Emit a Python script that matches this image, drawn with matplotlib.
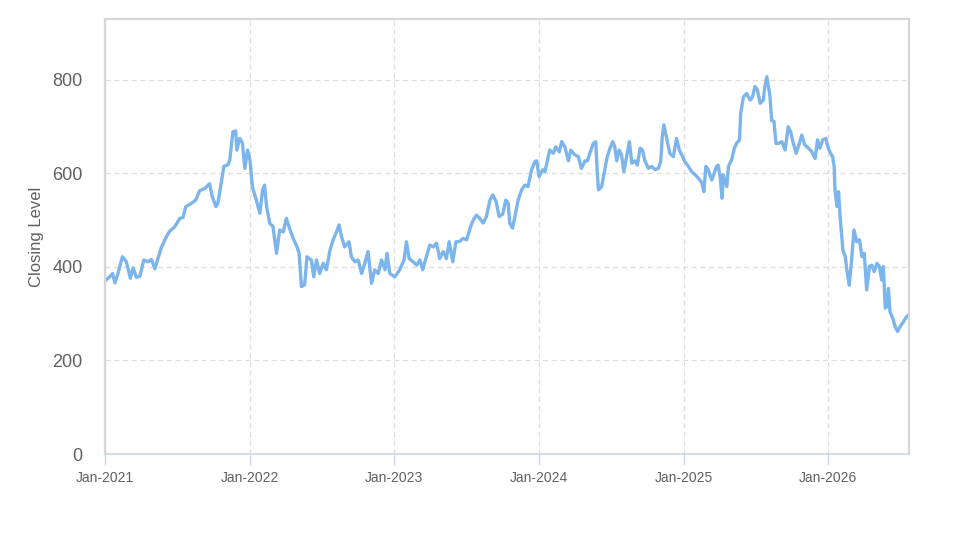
import numpy as np
import matplotlib
matplotlib.use('Agg')
import matplotlib.pyplot as plt
import matplotlib.dates as mdates

plt.rcParams['font.family'] = ['Liberation Sans', 'DejaVu Sans']

# Series start date and days elapsed since then for each reading
START = np.datetime64('2021-01-01')
END = np.datetime64('2026-07-24')

day_offset = [
    0, 2, 12, 19, 25, 33, 44, 54, 64, 71, 79, 88, 98, 109, 117, 126, 134, 142,
    155, 163, 176, 189, 197, 204, 218, 229, 239, 252, 264, 271, 280, 285, 292,
    300, 311, 315, 323, 330, 333, 340, 347, 353, 360, 366, 372, 382, 391, 398,
    403, 408, 416, 424, 433, 441, 450, 458, 467, 475, 483, 490, 496, 504, 510,
    515, 521, 527, 534, 542, 551, 559, 568, 576, 583, 591, 597, 605, 616, 622,
    631, 639, 648, 656, 664, 673, 681, 690, 698, 707, 712, 719, 732, 744, 755,
    761, 768, 778, 787, 795, 802, 810, 820, 829, 837, 845, 854, 862, 869, 878,
    886, 894, 904, 913, 923, 930, 938, 946, 955, 963, 972, 979, 987, 995, 1004,
    1012, 1018, 1022, 1029, 1035, 1043, 1052, 1060, 1068, 1077, 1085, 1090,
    1096, 1105, 1111, 1119, 1123, 1132, 1138, 1147, 1153, 1161, 1170, 1176,
    1186, 1195, 1203, 1212, 1218, 1224, 1233, 1239, 1243, 1246, 1254, 1260,
    1268, 1275, 1282, 1287, 1292, 1298, 1304, 1310, 1317, 1324, 1330, 1338,
    1344, 1351, 1357, 1363, 1372, 1380, 1389, 1397, 1403, 1407, 1411, 1418,
    1426, 1435, 1443, 1450, 1456, 1464, 1473, 1481, 1490, 1498, 1507, 1512,
    1517, 1523, 1527, 1532, 1538, 1544, 1548, 1553, 1558, 1561, 1570, 1574,
    1582, 1589, 1595, 1602, 1605, 1612, 1620, 1629, 1635, 1641, 1647, 1654,
    1662, 1666, 1671, 1675, 1679, 1683, 1689, 1694, 1700, 1709, 1717, 1725,
    1731, 1738, 1745, 1753, 1759, 1767, 1776, 1784, 1793, 1799, 1805, 1812,
    1820, 1826, 1832, 1837, 1841, 1843, 1848, 1852, 1856, 1863, 1869, 1873,
    1879, 1885, 1891, 1898, 1905, 1911, 1917, 1923, 1930, 1936, 1942, 1949,
    1955, 1961, 1965, 1970, 1974, 1978, 1982, 1989, 1995, 2001, 2007, 2016,
    2024, 2028,
]

closing_level = [
    370, 372, 379, 386, 366, 387, 422, 411, 376, 398, 378, 380, 415, 411, 416,
    396, 419, 441, 465, 476, 486, 504, 506, 529, 536, 543, 563, 568, 578, 550,
    529, 536, 572, 615, 619, 629, 689, 691, 650, 675, 665, 611, 650, 629, 572,
    543, 515, 565, 575, 529, 493, 487, 429, 479, 475, 504, 480, 461, 447, 430,
    358, 362, 422, 418, 415, 379, 415, 386, 408, 394, 436, 458, 472, 490, 465,
    443, 454, 422, 411, 415, 386, 408, 433, 365, 394, 386, 415, 394, 429, 386,
    379, 394, 415, 454, 418, 411, 404, 415, 394, 418, 447, 443, 451, 418, 433,
    418, 454, 411, 454, 454, 461, 458, 486, 501, 511, 504, 494, 508, 543, 554,
    541, 508, 513, 543, 536, 493, 483, 508, 543, 565, 575, 572, 608, 625, 627,
    593, 608, 604, 636, 650, 643, 657, 646, 668, 657, 627, 650, 640, 636, 611,
    627, 627, 643, 664, 668, 600, 565, 572, 600, 636, 654, 668, 657, 627, 650,
    640, 604, 636, 668, 622, 627, 618, 654, 650, 627, 611, 615, 608, 611, 625,
    679, 704, 675, 643, 636, 675, 650, 640, 625, 615, 604, 597, 590, 580, 561,
    615, 608, 597, 586, 600, 615, 618, 593, 547, 597, 572, 615, 629, 654, 665,
    672, 729, 764, 771, 757, 764, 786, 779, 750, 757, 786, 807, 786, 764, 714,
    711, 664, 664, 668, 650, 700, 689, 664, 643, 664, 682, 661, 654, 647, 632,
    672, 654, 672, 675, 654, 643, 636, 615, 565, 529, 561, 508, 436, 422, 394,
    361, 415, 479, 454, 458, 422, 429, 351, 401, 404, 390, 408, 401, 372, 401,
    312, 315, 354, 304, 290, 272, 262, 272, 283, 294, 297,
]

y_ticks = [0, 200, 400, 600, 800]
x_ticks = ['2021-01-01', '2022-01-01', '2023-01-01', '2024-01-01', '2025-01-01', '2026-01-01']

dates = START + np.array(day_offset).astype('timedelta64[D]')

fig = plt.figure(figsize=(9.74, 5.47), dpi=100)
ax = fig.add_axes([0.1078, 0.170, 0.8255, 0.795])

ax.plot(dates, closing_level, color='#7cb5ec', linewidth=2.4, solid_joinstyle='round')

ax.set_xlim(START, END)
ax.set_ylim(0, 930)

ax.set_yticks(y_ticks)
ax.set_xticks(np.array(x_ticks, dtype='datetime64[D]'))
ax.xaxis.set_major_formatter(mdates.DateFormatter('%b-%Y'))

ax.grid(True, color='#dedede', linestyle=(0, (4, 3)), linewidth=0.9)
ax.set_axisbelow(True)

for side in ['top', 'right', 'left']:
    ax.spines[side].set_color('#d6d6d6')
    ax.spines[side].set_linewidth(1.6)
ax.spines['bottom'].set_color('#ccd6eb')
ax.spines['bottom'].set_linewidth(1.2)

ax.tick_params(axis='y', length=0, pad=16, labelsize=13, labelcolor='#606060')
ax.tick_params(axis='x', length=8, width=1, color='#ccd6eb', pad=4,
               labelsize=10, labelcolor='#606060')

ax.set_ylabel('Closing Level', fontsize=12, color='#606060', labelpad=6)

fig.savefig('out.png', dpi=100)
